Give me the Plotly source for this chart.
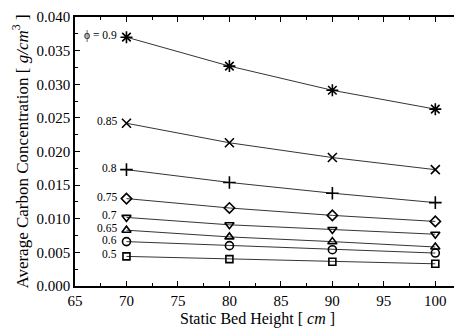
import plotly.graph_objects as go

heights = [70, 80, 90, 100]
phi_labels = ["0.9", "0.85", "0.8", "0.75", "0.7", "0.65", "0.6", "0.5"]
conc_09 = [0.0370, 0.0327, 0.0291, 0.0263]
conc_085 = [0.0242, 0.0213, 0.0191, 0.0173]
conc_08 = [0.0173, 0.0154, 0.0138, 0.0124]
conc_075 = [0.0130, 0.0116, 0.0105, 0.0096]
conc_07 = [0.0102, 0.0091, 0.0084, 0.0077]
conc_065 = [0.0083, 0.0073, 0.0066, 0.0058]
conc_06 = [0.0066, 0.0060, 0.0054, 0.0049]
conc_05 = [0.0044, 0.0040, 0.0036, 0.0033]
series = [conc_09, conc_085, conc_08, conc_075, conc_07, conc_065, conc_06, conc_05]
symbols = ["asterisk-open", "x-thin-open", "cross-thin-open", "diamond-open",
           "triangle-down-open", "triangle-up-open", "circle-open", "square-open"]
sizes = [10, 9, 9, 8, 8, 8, 8, 7]
x_ticks = [65, 70, 75, 80, 85, 90, 95, 100]
y_ticks = [0.000, 0.005, 0.010, 0.015, 0.020, 0.025, 0.030, 0.035, 0.040]

FONT = "Liberation Serif, Times New Roman, serif"

fig = go.Figure()
for lab, ys, sym, sz in zip(phi_labels, series, symbols, sizes):
    fig.add_trace(go.Scatter(
        x=heights, y=ys, mode="lines+markers", name=lab,
        line=dict(color="black", width=0.8),
        marker=dict(symbol=sym, size=sz, color="black",
                    line=dict(color="black", width=1.6)),
        showlegend=False,
    ))
    text = "ϕ = " + lab if lab == "0.9" else lab
    fig.add_annotation(x=heights[0], y=ys[0], text=text, showarrow=False,
                       xanchor="right", xshift=-7, yshift=2,
                       font=dict(family=FONT, size=11.5, color="black"))

axis_common = dict(
    showline=True, linecolor="black", linewidth=1.5, mirror="ticks",
    ticks="inside", ticklen=5, tickwidth=1.2, tickcolor="black",
    showgrid=False, zeroline=False,
    tickfont=dict(family=FONT, size=15, color="black"),
)
fig.update_xaxes(
    range=[65, 102.3], tickvals=x_ticks,
    minor=dict(ticks="inside", ticklen=3, tickcolor="black", dtick=2.5, tick0=65),
    **axis_common,
)
fig.update_yaxes(
    range=[0, 0.040], tickvals=y_ticks, tickformat=".3f",
    minor=dict(ticks="inside", ticklen=3, tickcolor="black", dtick=0.0025, tick0=0),
    title=dict(text="Average Carbon Concentration [ <i>g/cm</i><sup>3</sup> ]",
               font=dict(family=FONT, size=17, color="black"), standoff=4),
    **axis_common,
)
fig.add_annotation(xref="paper", yref="paper", x=0.474, y=0, yshift=-22,
                   xanchor="center", yanchor="top", showarrow=False,
                   text="Static Bed Height [ <i>cm</i> ]",
                   font=dict(family=FONT, size=16, color="black"))
fig.update_layout(
    width=454, height=322,
    margin=dict(l=67, r=1, t=8, b=44),
    paper_bgcolor="white", plot_bgcolor="white",
)
fig.write_html("out.html")
